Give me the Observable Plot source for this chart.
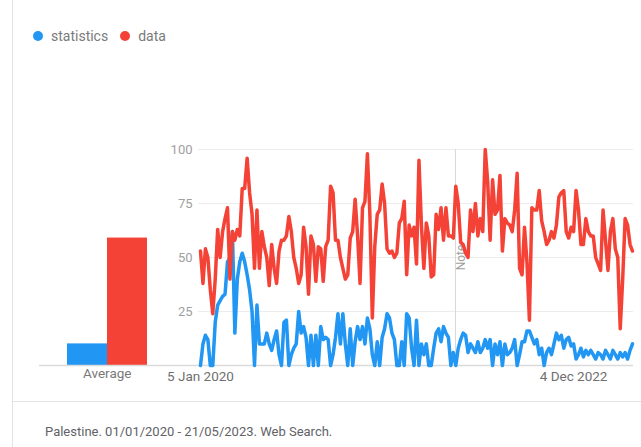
<!DOCTYPE html>
<html><head><meta charset="utf-8">
<script src="https://cdn.jsdelivr.net/npm/d3@7"></script>
<script src="https://cdn.jsdelivr.net/npm/@observablehq/plot@0.6"></script>
<style>
body{margin:0;background:#fff;font-family:Roboto,sans-serif;}
#wrap{position:relative;width:641px;height:447px;overflow:hidden;background:#fff;}
#wrap svg{position:absolute;left:0;top:0;}
#leftborder{position:absolute;left:12px;top:0;width:1px;height:447px;background:#e3e3e3;}
#sep{position:absolute;left:12px;top:401px;width:629px;height:1px;background:#e3e3e3;}
#legend{position:absolute;left:33px;top:27px;font-size:14px;color:#7a7a7a;display:flex;align-items:center;height:18px;}
#legend .item{display:flex;align-items:center;margin-right:12px;}
#legend .dot{width:10px;height:10px;border-radius:50%;margin-right:8px;}
#caption{position:absolute;left:45px;top:424px;font-size:13px;color:#5f6368;}
</style></head><body>
<div id="wrap"><div id="leftborder"></div><div id="sep"></div><div id="legend"></div><div id="caption"></div></div>
<script>
const series = ["statistics", "data"];
const colors = ["#2196f3", "#f44336"];
const averages = [10, 59];
const startWeek = "2020-01-05";
const statistics = [
0,10,14,12,0,0,20,28,30,32,33,48,50,62,15,40,48,52,48,42,35,25,0,28,10,10,10,15,10,
7,12,16,5,0,20,21,0,5,8,10,25,15,18,13,0,14,0,14,0,18,12,13,12,0,5,13,24,10,24,
10,0,17,0,11,18,12,18,10,22,17,5,0,11,0,13,17,24,22,15,12,0,0,11,0,24,22,8,0,21,0,
10,5,10,0,0,8,15,17,11,18,15,13,0,6,0,8,12,15,14,6,10,8,6,11,6,8,12,8,
12,0,10,5,11,0,10,5,6,8,12,0,5,11,11,16,16,13,10,12,5,8,0,6,8,5,10,15,12,14,
8,12,13,9,10,3,5,8,4,7,5,7,5,3,6,5,3,7,5,3,7,5,3,6,4,6,3,7,10];
const dataValues = [
53,38,54,50,35,24,40,63,50,62,68,73,40,62,58,63,60,82,82,96,80,70,45,72,45,62,55,50,37,
56,45,38,53,58,58,60,69,62,50,45,38,42,64,55,33,60,56,39,55,54,39,55,58,83,80,58,58,50,45,
40,42,59,62,77,60,38,73,76,98,70,22,55,70,72,84,75,54,52,53,50,52,66,68,76,42,65,60,64,47,95,
65,45,66,60,41,42,70,63,73,58,73,60,60,59,83,75,57,56,52,50,72,62,75,60,68,62,100,85,
58,86,70,72,88,53,68,66,65,62,72,89,45,42,64,48,21,73,72,72,81,67,62,56,58,62,59,65,78,80,
81,62,59,64,62,81,72,56,56,68,62,60,60,50,47,44,72,58,44,62,68,54,50,17,40,68,65,56,53];
const yTicks = [25, 50, 75, 100];
const xTickDates = ["2020-01-05", "2022-12-04"];
const noteDate = "2022-01-01";
const noteLabel = "Note";
const averageLabel = "Average";
const captionText = "Palestine. 01/01/2020 - 21/05/2023. Web Search.";

const WEEK = 7 * 864e5;
const t0 = new Date(startWeek + "T00:00:00Z").getTime();
const rows = [];
series.forEach((s, k) => {
  const vals = k === 0 ? statistics : dataValues;
  vals.forEach((v, i) => rows.push({series: s, date: new Date(t0 + i * WEEK), value: v}));
});
const n = statistics.length;
const tEnd = t0 + (n - 1) * WEEK;
const avgRows = series.map((s, k) => ({series: s, value: averages[k]}));

const wrap = document.getElementById("wrap");

const legend = document.getElementById("legend");
series.forEach((s, k) => {
  const it = document.createElement("div"); it.className = "item";
  const d = document.createElement("div"); d.className = "dot"; d.style.background = colors[k];
  const t = document.createElement("span"); t.textContent = s;
  it.appendChild(d); it.appendChild(t); legend.appendChild(it);
});
document.getElementById("caption").textContent = captionText;

const bars = Plot.plot({
  width: 641, height: 447,
  marginLeft: 39, marginRight: 443, marginTop: 149, marginBottom: 82,
  style: {background: "transparent", fontFamily: "Roboto, sans-serif"},
  x: {type: "band", domain: series, range: [66, 147], padding: 0, axis: null},
  y: {domain: [0, 100], axis: null},
  color: {domain: series, range: colors},
  marks: [
    Plot.barY(avgRows, {x: "series", y: "value", fill: "series"}),
    Plot.ruleY([0], {stroke: "#dadada", strokeWidth: 1.5}),
    Plot.text([averageLabel], {x: () => series[1], frameAnchor: "bottom", dy: 12.5, dx: -20.25, fill: "#7a7a7a", fontSize: 13.5, text: d => d})
  ]
});
wrap.appendChild(bars);

const lines = Plot.plot({
  width: 641, height: 447,
  marginLeft: 198, marginRight: 8, marginTop: 149, marginBottom: 82,
  style: {background: "transparent", fontFamily: "Roboto, sans-serif"},
  x: {type: "utc", domain: [new Date(t0 - 0.815 * WEEK), new Date(tEnd + 0.407 * WEEK)], axis: null},
  y: {domain: [0, 100], axis: null},
  color: {domain: series, range: colors},
  marks: [
    Plot.ruleY(yTicks, {stroke: "#ececec"}),
    Plot.ruleY([0], {stroke: "#dadada", strokeWidth: 1.5}),
    Plot.ruleX([new Date(noteDate + "T00:00:00Z")], {stroke: "#d6d6d6"}),
    Plot.text([noteLabel], {x: () => new Date(noteDate + "T00:00:00Z"), frameAnchor: "middle", rotate: -90, dx: 6, fill: "#9e9e9e", fontSize: 12, text: d => d}),
    Plot.axisY(yTicks, {tickSize: 0, tickPadding: 6, fontSize: 13, fill: "#a0a0a0", label: null}),
    Plot.axisX(xTickDates.map(d => new Date(d + "T00:00:00Z")), {tickSize: 0, tickPadding: 6, fontSize: 13.5, fill: "#6f6f6f", tickFormat: d3.utcFormat("%-d %b %Y"), label: null}),
    Plot.line(rows, {x: "date", y: "value", stroke: "series", strokeWidth: 3.5, strokeLinejoin: "round", curve: "linear"})
  ]
});
wrap.appendChild(lines);
</script>
</body></html>
